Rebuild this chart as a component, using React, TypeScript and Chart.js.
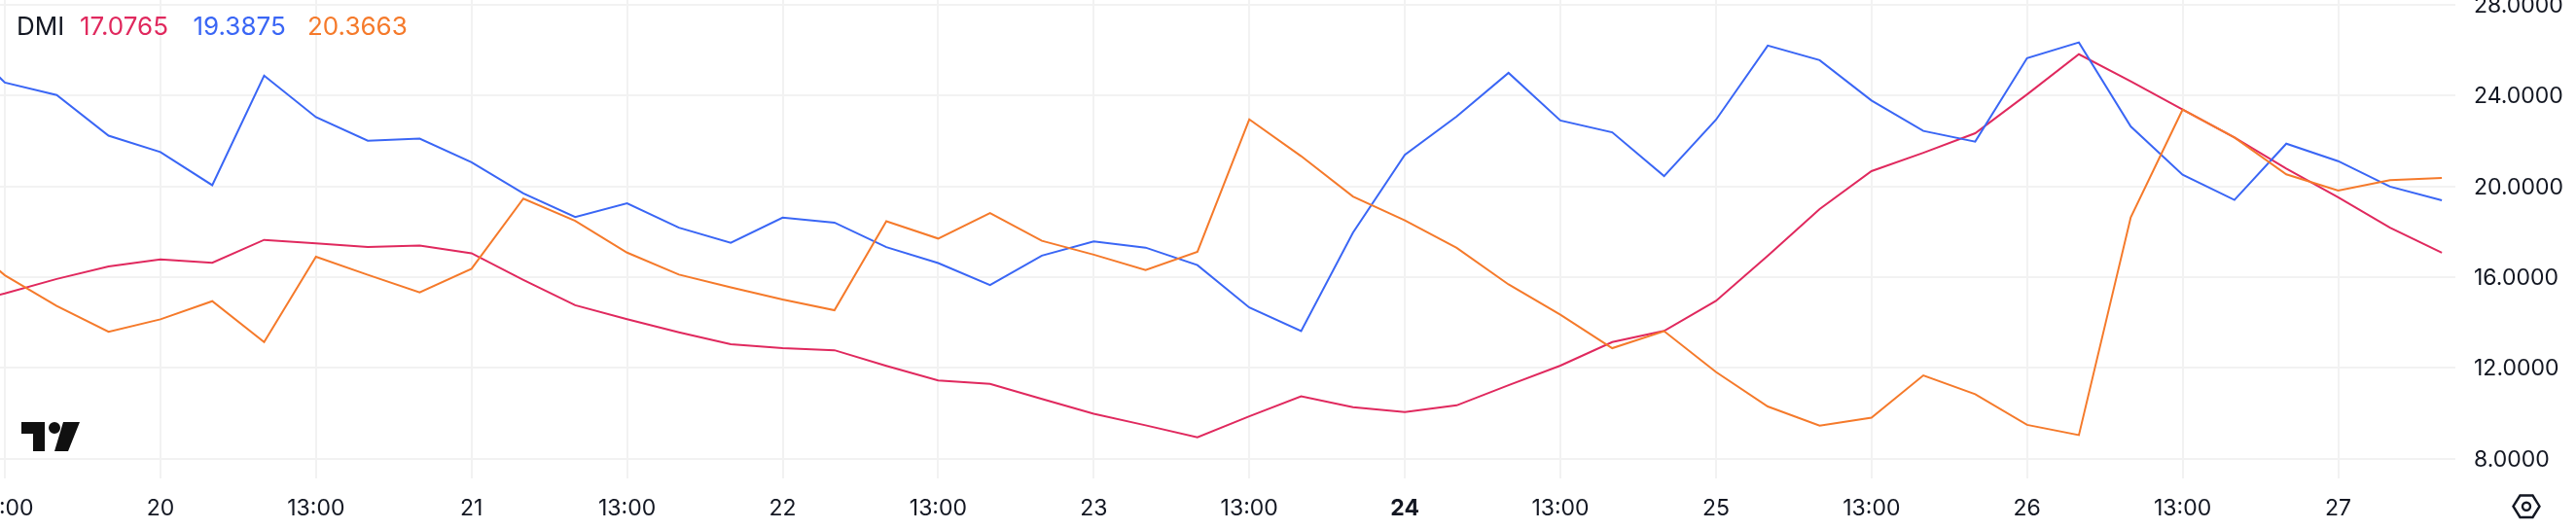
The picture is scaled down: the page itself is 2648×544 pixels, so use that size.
import React, { useEffect, useRef } from "react";
import { Chart, registerables } from "chart.js";

Chart.register(...registerables);

const pointLabels: string[] = [
  "13:00", "", "", "20", "", "", "13:00", "", "", "21", "", "", "13:00", "", "", "22", "", "",
  "13:00", "", "", "23", "", "", "13:00", "", "", "24", "", "", "13:00", "", "", "25", "", "",
  "13:00", "", "", "26", "", "", "13:00", "", "", "27", "", "",
];

const redValues = [14.7, 15.28, 15.92, 16.47, 16.78, 16.63, 17.64, 17.49, 17.33, 17.39, 17.05, 15.88, 14.76, 14.15, 13.57, 13.04, 12.87, 12.78, 12.09, 11.45, 11.3, 10.63, 9.98, 9.47, 8.94, 9.87, 10.75, 10.27, 10.05, 10.35, 11.24, 12.1, 13.14, 13.63, 14.95, 16.94, 19.0, 20.67, 21.48, 22.34, 24.05, 25.82, 24.63, 23.38, 22.15, 20.78, 19.52, 18.18, 17.0765];
const blueValues = [26.85, 24.57, 24.02, 22.23, 21.51, 20.05, 24.88, 23.05, 22.01, 22.1, 21.06, 19.69, 18.65, 19.25, 18.18, 17.51, 18.62, 18.4, 17.32, 16.62, 15.65, 16.95, 17.57, 17.3, 16.53, 14.66, 13.62, 17.96, 21.39, 23.08, 25.0, 22.9, 22.38, 20.45, 22.93, 26.2, 25.56, 23.78, 22.44, 21.97, 25.65, 26.34, 22.64, 20.51, 19.4, 21.88, 21.11, 19.99, 19.3875];
const orangeValues = [18.0, 16.08, 14.73, 13.59, 14.14, 14.94, 13.14, 16.9, 16.1, 15.33, 16.37, 19.46, 18.48, 17.08, 16.11, 15.55, 15.01, 14.54, 18.46, 17.7, 18.82, 17.6, 16.99, 16.31, 17.12, 22.95, 21.33, 19.55, 18.5, 17.29, 15.68, 14.34, 12.87, 13.62, 11.82, 10.3, 9.46, 9.81, 11.67, 10.84, 9.49, 9.04, 18.63, 23.38, 22.15, 20.53, 19.81, 20.27, 20.3663];

const yTicks = [8, 12, 16, 20, 24, 28];
const legendName = "DMI";
const legendValues = ["17.0765", "19.3875", "20.3663"];

const RED = "#E0295E";
const BLUE = "#3A66F5";
const ORANGE = "#F57A2B";
const INK = "#131722";
const GRID = "#F2F2F2";
const FONT = "Inter, sans-serif";

const overlay = {
  id: "overlay",
  afterDraw(chart: Chart) {
    const c = chart.ctx;
    c.save();
    c.textBaseline = "alphabetic";
    c.textAlign = "left";
    c.font = `26px ${FONT}`;
    c.fillStyle = INK;
    c.fillText(legendName, 17, 36);
    const xs = [82, 198.5, 316];
    [RED, BLUE, ORANGE].forEach((col, i) => {
      c.fillStyle = col;
      c.fillText(legendValues[i], xs[i], 36);
    });
    // logo
    c.fillStyle = "#101010";
    c.beginPath();
    c.moveTo(22, 434); c.lineTo(46, 434); c.lineTo(46, 464); c.lineTo(34, 464); c.lineTo(34, 446); c.lineTo(22, 446);
    c.closePath();
    c.moveTo(62, 440);
    c.arc(56, 440, 6, 0, Math.PI * 2);
    c.moveTo(65, 434); c.lineTo(82, 434); c.lineTo(70, 464); c.lineTo(56, 464);
    c.closePath();
    c.fill();
    // settings glyph
    c.strokeStyle = "#131722";
    c.lineWidth = 2.4;
    c.beginPath();
    c.moveTo(2583.5, 520.7); c.lineTo(2590.5, 509.5); c.lineTo(2603.5, 509.5);
    c.lineTo(2610.5, 520.7); c.lineTo(2603.5, 532); c.lineTo(2590.5, 532);
    c.closePath();
    c.stroke();
    c.beginPath();
    c.arc(2597, 520.7, 4, 0, Math.PI * 2);
    c.stroke();
    c.restore();
  },
};

function series(values: number[]) {
  return values.map((y, i) => ({ x: i - 1, y }));
}

export default function App() {
  const ref = useRef<HTMLCanvasElement>(null);
  useEffect(() => {
    const chart = new Chart(ref.current!, {
      type: "line",
      data: {
        datasets: [
          { data: series(orangeValues), borderColor: ORANGE },
          { data: series(blueValues), borderColor: BLUE },
          { data: series(redValues), borderColor: RED },
        ].map((d) => ({ ...d, borderWidth: 2, pointRadius: 0, tension: 0, borderJoinStyle: "miter" as const })),
      },
      options: {
        animation: false,
        responsive: false,
        devicePixelRatio: 1,
        layout: { padding: 0 },
        plugins: { legend: { display: false }, tooltip: { enabled: false } },
        scales: {
          x: {
            type: "linear",
            min: -5 / 53.3,
            max: 2519 / 53.3,
            afterFit(s: any) {
              s.height = 52.3;
              s.paddingLeft = 0;
              s.paddingRight = 0;
            },
            afterBuildTicks(s: any) {
              s.ticks = pointLabels
                .map((l, i) => ({ l, i }))
                .filter((o) => o.l)
                .map((o) => ({ value: o.i }));
            },
            ticks: {
              autoSkip: false,
              maxRotation: 0,
              minRotation: 0,
              padding: 18,
              color: INK,
              callback: (v: any) => pointLabels[v as number],
              font: (ctx: any) => ({
                family: FONT,
                size: 23,
                weight: ctx.tick && ctx.tick.label === "24" ? "bold" : "normal",
              }),
            },
            grid: { color: GRID, lineWidth: 2, drawTicks: false },
            border: { display: false },
          },
          y: {
            type: "linear",
            position: "right",
            min: 8 - 20 / 23.34,
            max: 28 + 4.9 / 23.34,
            afterFit(s: any) {
              s.width = 124;
              s.paddingTop = 0;
              s.paddingBottom = 0;
            },
            afterBuildTicks(s: any) {
              s.ticks = yTicks.map((value) => ({ value }));
            },
            ticks: {
              padding: 19,
              labelOffset: 1,
              color: INK,
              callback: (v: any) => Number(v).toFixed(4),
              font: { family: FONT, size: 23 },
            },
            grid: { color: GRID, lineWidth: 2, drawTicks: false },
            border: { display: false },
          },
        },
      },
      plugins: [overlay],
    });
    return () => chart.destroy();
  }, []);
  return (
    <canvas
      ref={ref}
      width={2648}
      height={544}
      style={{ position: "absolute", left: 0, top: 0, display: "block", background: "#fff" }}
    />
  );
}
